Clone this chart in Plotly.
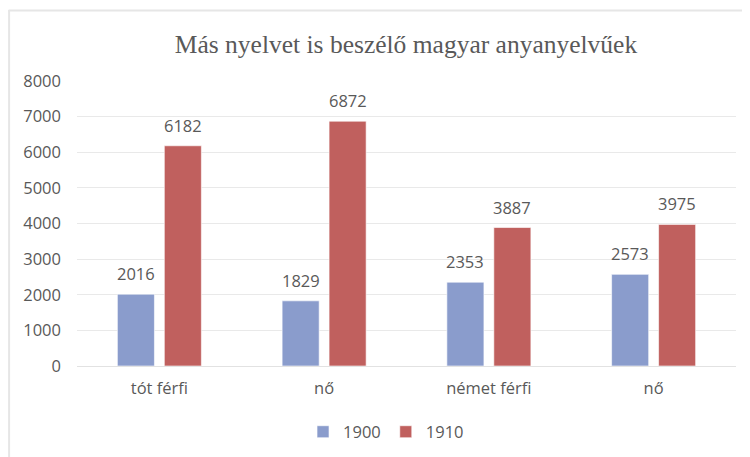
import plotly.graph_objects as go

categories = ["tót férfi", "nő", "német férfi", "nő"]
series_names = ["1900", "1910"]
values_1900 = [2016, 1829, 2353, 2573]
values_1910 = [6182, 6872, 3887, 3975]
y_ticks = [0, 1000, 2000, 3000, 4000, 5000, 6000, 7000, 8000]

colors = ["#8A9CCC", "#C0605E"]
offsets = [-0.255, 0.03]
bar_w = 0.225
text_color = "#595959"
font_family = "Open Sans, Liberation Sans, sans-serif"
fsize = 16.5

pos = list(range(len(categories)))

fig = go.Figure()
annotations = []
for name, vals, col, off in zip(series_names, [values_1900, values_1910], colors, offsets):
    fig.add_trace(go.Bar(
        x=pos, y=vals, name=name,
        marker=dict(color=col, line=dict(color="rgba(255,255,255,0.6)", width=1)),
        width=bar_w, offset=off,
    ))
    for p, v in zip(pos, vals):
        annotations.append(dict(
            x=p + off + bar_w / 2, y=v, xref="x", yref="y",
            text=str(v), showarrow=False, yanchor="bottom", yshift=7,
            font=dict(family=font_family, size=fsize, color=text_color),
        ))

# page body has an 8px margin: target window pixel p -> figure pixel p - 8
OFF = 8
W, H = 750, 457
L, T = 76.5 - OFF, 81 - OFF
R, B = W - (736.5 - OFF), H - (366 - OFF)
pw, ph = W - L - R, H - T - B
def px(xw): return (xw - OFF - L) / pw
def py(yw): return (H - B - (yw - OFF)) / ph

shapes = [
    dict(type="line", xref="paper", yref="paper", x0=px(8.5), x1=px(8.5), y0=py(10), y1=py(470),
         line=dict(color="#E6E6E6", width=2)),
    dict(type="line", xref="paper", yref="paper", x0=px(8), x1=px(770), y0=py(10.5), y1=py(10.5),
         line=dict(color="#E6E6E6", width=2)),
]

fig.update_layout(
    width=W, height=H,
    margin=dict(l=L, r=R, t=T, b=B, pad=0, autoexpand=False),
    paper_bgcolor="white", plot_bgcolor="white",
    title=dict(text="Más nyelvet is beszélő magyar anyanyelvűek", x=(406 - OFF) / W, xanchor="center",
               y=1 - (44 - OFF) / H, yanchor="middle",
               font=dict(family="Liberation Serif, Times New Roman, serif", size=25.5, color=text_color)),
    xaxis=dict(range=[-0.5, 3.5], tickvals=pos, ticktext=categories, showgrid=False,
               zeroline=False, showline=False, ticks="", ticklabelstandoff=10,
               tickfont=dict(family=font_family, size=fsize, color=text_color)),
    yaxis=dict(range=[0, 8000], tickvals=y_ticks, showgrid=True, gridcolor="#E9E9E9", gridwidth=1,
               zeroline=True, zerolinecolor="#E2E2E2", zerolinewidth=1, showline=False, ticks="",
               ticklabelstandoff=15,
               tickfont=dict(family=font_family, size=fsize, color=text_color)),
    showlegend=True,
    legend=dict(orientation="h", x=px(386), xanchor="center",
                y=py(432), yanchor="middle",
                font=dict(family=font_family, size=fsize, color=text_color), itemwidth=30),
    annotations=annotations,
    shapes=shapes,
    bargap=0.43,
)

fig.write_html("out.html")
